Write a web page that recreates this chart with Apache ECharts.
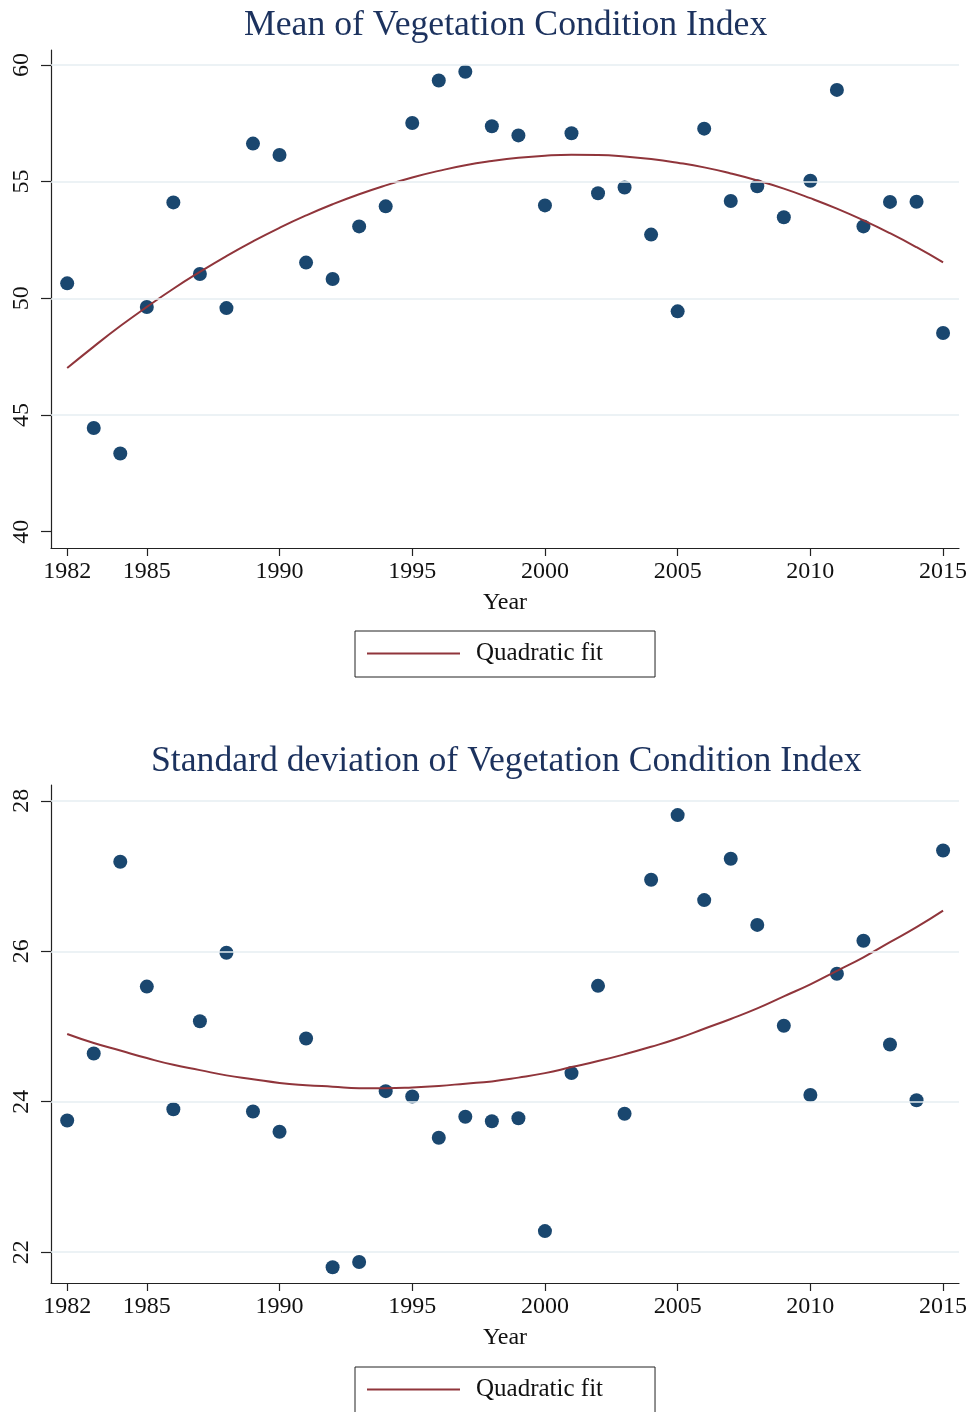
<!DOCTYPE html>
<html lang="en">
<head>
<meta charset="UTF-8">
<title>Vegetation Condition Index</title>
<script src="https://cdn.jsdelivr.net/npm/echarts@6.0.0/dist/echarts.min.js"></script>
<style>
  html, body { margin: 0; padding: 0; background: #fff; }
  #chart { width: 971px; height: 1412px; }
</style>
</head>
<body>
<div id="chart"></div>
<script>
// data
const years = [1982, 1983, 1984, 1985, 1986, 1987, 1988, 1989, 1990, 1991, 1992, 1993,
               1994, 1995, 1996, 1997, 1998, 1999, 2000, 2001, 2002, 2003, 2004, 2005,
               2006, 2007, 2008, 2009, 2010, 2011, 2012, 2013, 2014, 2015];
const meanVci = [50.64, 44.44, 43.35, 49.63, 54.11, 51.04, 49.58, 56.63, 56.14, 51.53, 50.83, 53.08,
                 53.94, 57.51, 59.33, 59.71, 57.37, 56.98, 53.98, 57.07, 54.50, 54.75, 52.73, 49.44,
                 57.27, 54.17, 54.80, 53.47, 55.04, 58.93, 53.08, 54.13, 54.14, 48.51];
const sdVci = [23.75, 24.64, 27.19, 25.53, 23.90, 25.07, 25.98, 23.87, 23.60, 24.84, 21.80, 21.87,
               24.14, 24.07, 23.52, 23.80, 23.74, 23.78, 22.28, 24.38, 25.54, 23.84, 26.95, 27.81,
               26.68, 27.23, 26.35, 25.01, 24.09, 25.70, 26.14, 24.76, 24.02, 27.34];

// fitted curves at each year
const meanFit = [47.01, 47.93, 48.81, 49.63, 50.41, 51.13, 51.81, 52.44, 53.02, 53.55, 54.03, 54.46,
                 54.84, 55.18, 55.46, 55.70, 55.88, 56.02, 56.11, 56.15, 56.14, 56.08, 55.97, 55.81,
                 55.61, 55.35, 55.05, 54.70, 54.29, 53.84, 53.34, 52.79, 52.19, 51.54];
const sdFit = [24.90, 24.78, 24.68, 24.58, 24.49, 24.42, 24.35, 24.30, 24.25, 24.22, 24.20, 24.18,
               24.18, 24.19, 24.21, 24.24, 24.27, 24.32, 24.38, 24.46, 24.54, 24.63, 24.73, 24.84,
               24.97, 25.10, 25.24, 25.40, 25.56, 25.74, 25.92, 26.12, 26.32, 26.54];

// ticks
const xTicks = [1982, 1985, 1990, 1995, 2000, 2005, 2010, 2015];
const meanTicks = [40, 45, 50, 55, 60];
const meanGrid = [45, 50, 55, 60];
const sdTicks = [22, 24, 26, 28];
const sdGrid = [22, 24, 26, 28];

const FONT = "'Liberation Serif', 'DejaVu Serif', serif";
const NAVY = '#1a476f';
const MAROON = '#90353b';
const TITLE = '#1c325e';

function pairs(xs, ys) {
  return xs.map((x, i) => [x, ys[i]]);
}

function xAxisFor(idx) {
  return {
    type: 'value', gridIndex: idx,
    min: 1981.39, max: 2015.6,
    name: 'Year', nameLocation: 'middle', nameGap: 43,
    nameTextStyle: { fontFamily: FONT, fontSize: 24, color: '#111' },
    axisLine: { show: true, lineStyle: { color: '#222', width: 1.2 } },
    axisTick: { show: true, customValues: xTicks, length: 8, lineStyle: { color: '#222', width: 1.2 } },
    axisLabel: { customValues: xTicks, margin: 12, fontFamily: FONT, fontSize: 24, color: '#111',
                 formatter: v => String(v) },
    splitLine: { show: false }
  };
}

function yAxisFor(idx, min, max, ticks) {
  return {
    type: 'value', gridIndex: idx, min: min, max: max,
    axisLine: { show: true, lineStyle: { color: '#222', width: 1.2 } },
    axisTick: { show: true, customValues: ticks, length: 10, lineStyle: { color: '#222', width: 1.2 } },
    axisLabel: { customValues: ticks, rotate: 90, margin: 17, fontFamily: FONT, fontSize: 24, color: '#111',
                 formatter: v => String(v) },
    splitLine: { show: false }
  };
}

function gridLines(idx, values) {
  return {
    type: 'line', xAxisIndex: idx, yAxisIndex: idx, data: [], z: 1,
    markLine: {
      silent: true, symbol: 'none', label: { show: false },
      lineStyle: { color: '#e6eef2', width: 1.5, type: 'solid' },
      data: values.map(v => ({ yAxis: v }))
    }
  };
}

function legendFor(top) {
  return {
    data: [{ name: 'Quadratic fit', icon: 'rect' }],
    left: 355, top: top,
    padding: [10, 52, 11, 12],
    borderColor: '#222', borderWidth: 1, borderRadius: 0,
    backgroundColor: '#fff',
    itemWidth: 93, itemHeight: 2,
    itemStyle: { color: MAROON },
    selectedMode: false,
    textStyle: { fontFamily: FONT, fontSize: 25, color: '#111', padding: [0, 0, 0, 11] }
  };
}

const chart = echarts.init(document.getElementById('chart'));
chart.setOption({
  animation: false,
  backgroundColor: '#fff',
  title: [
    { text: 'Mean of Vegetation Condition Index', left: 239, top: 3,
      textStyle: { fontFamily: FONT, fontSize: 35.7, fontWeight: 'normal', color: TITLE } },
    { text: 'Standard deviation of Vegetation Condition Index', left: 146, top: 739,
      textStyle: { fontFamily: FONT, fontSize: 35.7, fontWeight: 'normal', color: TITLE } }
  ],
  legend: [legendFor(631), legendFor(1367)],
  grid: [
    { left: 51, right: 12, top: 50, height: 498 },
    { left: 51, right: 12, top: 785, height: 498 }
  ],
  xAxis: [xAxisFor(0), xAxisFor(1)],
  yAxis: [
    yAxisFor(0, 39.3, 60.64, meanTicks),
    yAxisFor(1, 21.59, 28.21, sdTicks)
  ],
  series: [
    gridLines(0, meanGrid),
    gridLines(1, sdGrid),
    { name: 'Mean VCI', type: 'scatter', xAxisIndex: 0, yAxisIndex: 0, z: 2,
      symbolSize: 14, itemStyle: { color: NAVY, opacity: 1 },
      data: pairs(years, meanVci) },
    { name: 'Quadratic fit', type: 'line', xAxisIndex: 0, yAxisIndex: 0, z: 3,
      smooth: true, symbol: 'none', lineStyle: { color: MAROON, width: 2 },
      itemStyle: { color: MAROON },
      data: pairs(years, meanFit) },
    { name: 'SD VCI', type: 'scatter', xAxisIndex: 1, yAxisIndex: 1, z: 2,
      symbolSize: 14, itemStyle: { color: NAVY, opacity: 1 },
      data: pairs(years, sdVci) },
    { name: 'Quadratic fit', type: 'line', xAxisIndex: 1, yAxisIndex: 1, z: 3,
      smooth: true, symbol: 'none', lineStyle: { color: MAROON, width: 2 },
      itemStyle: { color: MAROON },
      data: pairs(years, sdFit) }
  ]
});
</script>
</body>
</html>
